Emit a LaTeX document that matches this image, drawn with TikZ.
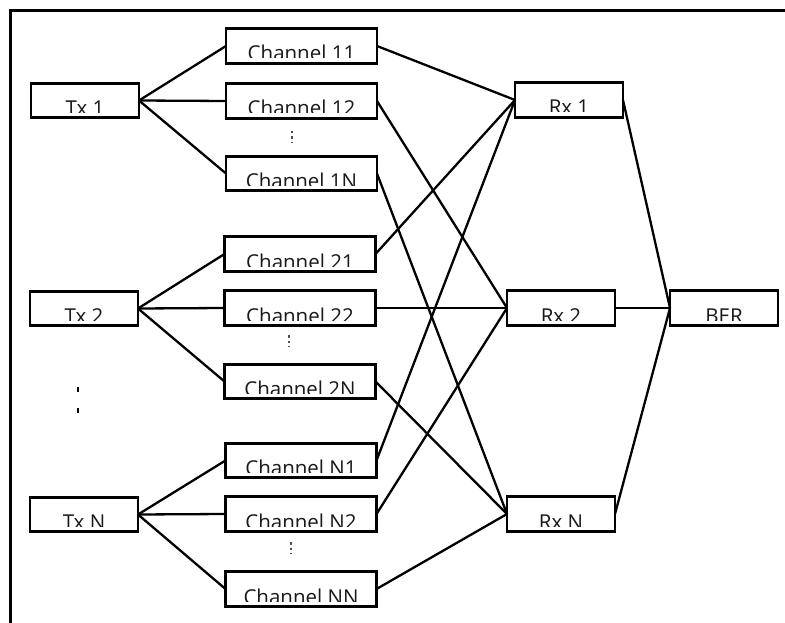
\documentclass[tikz,border=0pt]{standalone}
\usepackage{fontspec}
\setmainfont{Open Sans}
\begin{document}
\begin{tikzpicture}[x=1pt,y=-1pt,
  blk/.style 2 args={draw, line width=2.8pt, fill=white, minimum width=#1,
    minimum height=34.5pt, inner sep=0pt, outer sep=0pt,
    path picture={
      \clip ([xshift=-100pt,yshift=-12pt]path picture bounding box.center)
        rectangle ([xshift=100pt,yshift=30pt]path picture bounding box.center);
      \node[anchor=base, inner sep=0pt, text=black!90, font=\fontsize{20.5}{24}\selectfont]
        at ([yshift=-15pt]path picture bounding box.center) {#2};
    }},
  wire/.style={line width=2.3pt},
  tick/.style={line width=1.2pt}
]
\useasboundingbox (0,0) rectangle (785,623);
\draw[line width=3pt] (10.5,630) -- (10.5,10.5) -- (790,10.5);

% transmitters
\node[blk={108pt}{Tx 1}] (tx1) at (85,100.5) {};
\node[blk={108pt}{Tx 2}] (tx2) at (84,308.5) {};
\node[blk={108pt}{Tx N}] (txn) at (84,514.5) {};

% channels
\node[blk={151pt}{Channel 11}] (c11) at (301.5,46) {};
\node[blk={151pt}{Channel 12}] (c12) at (301.5,101) {};
\node[blk={151pt}{Channel 1N}] (c1n) at (301.5,173.5) {};
\node[blk={151pt}{Channel 21}] (c21) at (300,254) {};
\node[blk={151pt}{Channel 22}] (c22) at (300,308) {};
\node[blk={151pt}{Channel 2N}] (c2n) at (300,381.5) {};
\node[blk={151pt}{Channel N1}] (cn1) at (301,460.5) {};
\node[blk={151pt}{Channel N2}] (cn2) at (301,514) {};
\node[blk={151pt}{Channel NN}] (cnn) at (301,589) {};

% receivers
\node[blk={108pt}{Rx 1}] (rx1) at (569,100) {};
\node[blk={108pt}{Rx 2}] (rx2) at (561,308) {};
\node[blk={108pt}{Rx N}] (rxn) at (561,514) {};
\node[blk={108pt}{BER}] (ber) at (724,308) {};

% Tx -> channels
\foreach \t/\a/\b/\c in {tx1/c11/c12/c1n, tx2/c21/c22/c2n, txn/cn1/cn2/cnn}{
  \draw[wire] (\t.east) -- (\a.west);
  \draw[wire] (\t.east) -- (\b.west);
  \draw[wire] (\t.east) -- (\c.west);
}
% channels -> Rx
\foreach \c/\r in {c11/rx1, c12/rx2, c1n/rxn, c21/rx1, c22/rx2, c2n/rxn, cn1/rx1, cn2/rx2, cnn/rxn}{
  \draw[wire] (\c.east) -- (\r.west);
}
% Rx -> BER
\foreach \r in {rx1, rx2, rxn}{
  \draw[wire] (\r.east) -- (ber.west);
}

% vertical ellipses
\draw[tick, black!70, dash pattern=on 2.5pt off 3pt] (292,131) -- (292,143);
\draw[tick, black!70, dash pattern=on 2.5pt off 3pt] (289,335) -- (289,347);
\draw[tick, black!70, dash pattern=on 2.5pt off 3pt] (291,542) -- (291,554);
\draw[tick] (78,387) -- (78,391.5);
\draw[tick] (78,408) -- (78,412.5);
\end{tikzpicture}
\end{document}
